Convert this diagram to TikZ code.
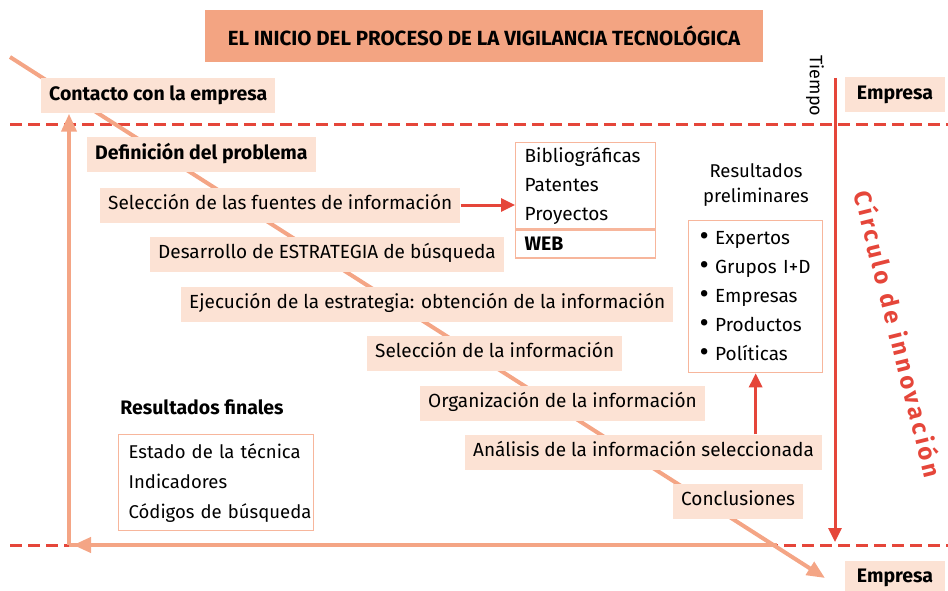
\documentclass[tikz,border=0pt]{standalone}
\usepackage{fontspec}
\setmainfont{Fira Sans}
\usetikzlibrary{positioning,arrows.meta,calc}
\definecolor{rojo}{HTML}{E5463A}
\definecolor{salmon}{HTML}{F3A482}
\definecolor{melocoton}{HTML}{FCE2D4}
\definecolor{trazo}{HTML}{F4A585}
\definecolor{borde}{HTML}{F7B69C}
\newcommand{\punto}{\raisebox{-1.5pt}{\scalebox{1.5}{\textbullet}}\ }

\begin{document}
\begin{tikzpicture}[x=1pt, y=-1pt,
    font=\fontsize{19}{22}\selectfont,
    paso/.style={fill=melocoton, anchor=west, inner xsep=8pt,
                 minimum height=35pt, text height=13pt, text depth=4pt},
    pasob/.style={paso, font=\fontsize{19.5}{22}\selectfont\bfseries},
    lista/.style={draw=borde, line width=1.3pt, align=left, anchor=north west,
                  font=\fontsize{19}{29}\selectfont},
    rayas/.style={draw=rojo, line width=3pt, dash pattern=on 12pt off 6pt},
    rojoarr/.style={draw=rojo, line width=3pt, -{Triangle[length=14pt, width=13pt]}},
    claroarr/.style={draw=trazo, line width=4pt, -{Triangle[length=18pt, width=15pt]}}]
  \useasboundingbox (0,0) rectangle (948,591);

  % lineas de fondo
  \coordinate (izq1) at (10,125);  \coordinate (der1) at (948,125);
  \coordinate (izq2) at (10,545);  \coordinate (der2) at (948,545);
  \draw[rayas] (izq1) -- (der1);
  \draw[rayas] (izq2) -- (der2);

  \coordinate (tsup) at (835,78);
  \coordinate (tinf) at (835,542);
  \draw[rojoarr] (tsup) -- (tinf);
  \node[rotate=-90, font=\fontsize{18}{20}\selectfont] (tiempo) at (815,86) {Tiempo};

  \coordinate (inicio) at (10,57);
  \coordinate (fin)    at (825,578);
  \draw[claroarr] (inicio) -- (fin);

  \coordinate (cruce)   at (777,545);
  \coordinate (esquina) at (69,545);
  \draw[claroarr] (cruce) -- (73,545);
  \draw[draw=trazo, line width=4pt] (cruce) -- (esquina);

  % titulo
  \node[fill=salmon, minimum width=558pt, minimum height=52pt,
        font=\fontsize{20.5}{24}\selectfont\bfseries] (titulo) at (484,36)
        {EL INICIO DEL PROCESO DE LA VIGILANCIA TECNOLÓGICA};

  \node[pasob] (contacto) at (41,96)  {Contacto con la empresa};
  \node[pasob, anchor=center, minimum width=100pt] (emp1) at (895,95)  {Empresa};
  \node[pasob, anchor=center, minimum width=100pt] (emp2) at (895,578) {Empresa};

  \draw[claroarr] (esquina) -- (contacto.south -| esquina);

  % pasos
  \node[pasob] (definicion)  at (87,155)  {Definición del problema};
  \node[paso]  (fuentesel)   at (100,205) {Selección de las fuentes de información};
  \node[paso]  (estrategia)  at (150,254) {Desarrollo de ESTRATEGIA de búsqueda};
  \node[paso]  (ejecucion)   at (181,304) {Ejecución de la estrategia: obtención de la información};
  \node[paso]  (seleccion)   at (367,353) {Selección de la información};
  \node[paso]  (organiza)    at (420,403) {Organización de la información};
  \node[paso]  (analisis)    at (465,452) {Análisis de la información seleccionada};
  \node[paso]  (conclusion)  at (673,501) {Conclusiones};

  % fuentes
  \node[lista, text width=122pt, inner xsep=9pt, minimum height=86pt] (fuentes) at (515,142)
        {Bibliográficas\\Patentes\\Proyectos};
  \node[lista, text width=122pt, inner xsep=9pt, minimum height=28pt,
        font=\fontsize{19.5}{22}\selectfont\bfseries] (web) at (fuentes.south west) {WEB};
  \draw[rojoarr] (fuentesel.east) -- (fuentesel.east -| fuentes.west);

  % resultados preliminares
  \node[align=center, font=\fontsize{18.5}{25}\selectfont] (prelimtit) at (756,185)
        {Resultados\\preliminares};
  \node[lista, text width=112pt, inner xsep=11pt, minimum height=152pt] (prelim) at (688,220)
        {\punto Expertos\\\punto Grupos I+D\\\punto Empresas\\
         \punto Productos\\\punto Políticas};
  \draw[rojoarr] (analisis.north -| prelim.south) -- (prelim.south);

  % resultados finales
  \node[font=\fontsize{19.5}{22}\selectfont\bfseries] (finaltit) at (202,407) {Resultados finales};
  \node[lista, text width=175pt, inner xsep=10pt, minimum height=96pt,
        font=\fontsize{18.5}{30}\selectfont] (finales) at (118,434)
        {\mbox{Estado de la técnica}\\Indicadores\\\mbox{Códigos de búsqueda}};

  \node[rotate=-76, text=rojo,
        font=\fontsize{24}{28}\selectfont\bfseries\addfontfeature{LetterSpace=14}]
        (circulo) at (899,334) {Círculo de innovación};
\end{tikzpicture}
\end{document}
